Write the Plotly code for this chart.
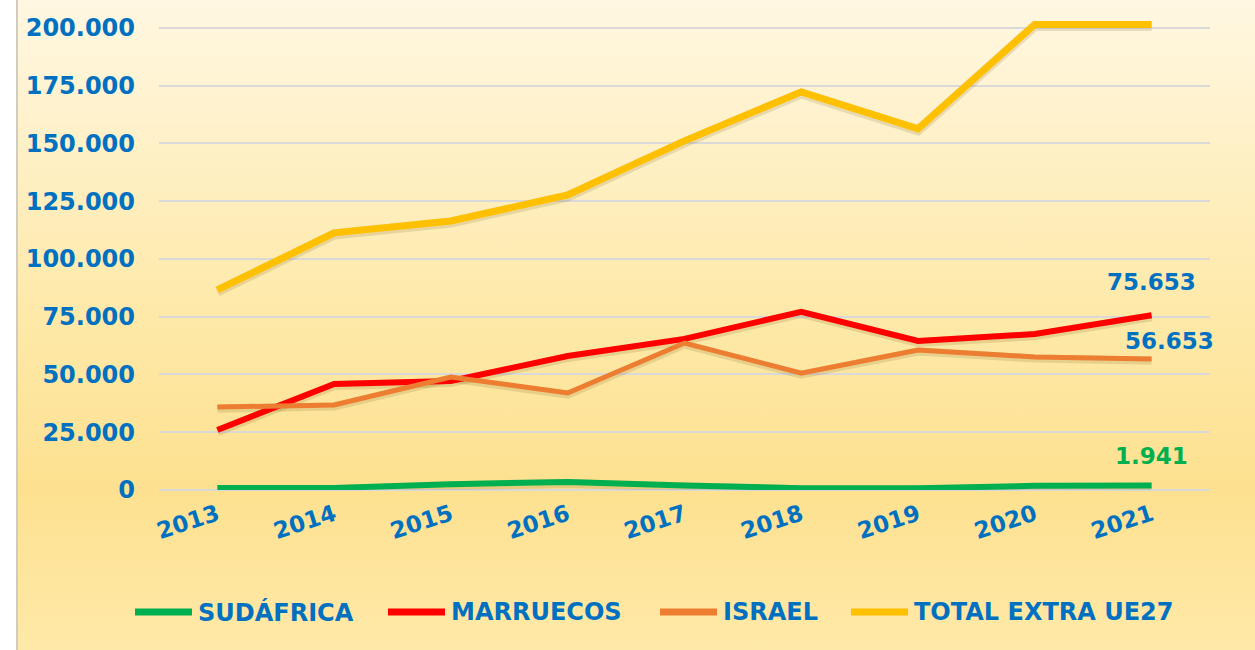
import base64
import plotly.graph_objects as go

years = ["2013", "2014", "2015", "2016", "2017", "2018", "2019", "2020", "2021"]
sudafrica = [900, 900, 2500, 3500, 2000, 800, 800, 1800, 1941]
marruecos = [26000, 45900, 47200, 58000, 65400, 77100, 64500, 67500, 75653]
israel = [35900, 36800, 48900, 42000, 63600, 50600, 60600, 57600, 56653]
total_extra = [86600, 111300, 116400, 127700, 151100, 172300, 156300, 201500, 201500]

blue = "#0070C0"
font_name = "DejaVu Sans"

# plot area in pixels (used for the hand-placed legend)
L, R, T, B = 159, 45, 14, 160
W, H = 1255, 650
pw, ph = W - L - R, H - T - B

def px_x(p):
    return (p - L) / pw

def px_y(p):
    return (H - B - p) / ph

# background gradient as an svg image
svg = ('<svg xmlns="http://www.w3.org/2000/svg" width="100" height="100" preserveAspectRatio="none">'
       '<defs><linearGradient id="g" x1="0" y1="0" x2="0" y2="1">'
       '<stop offset="0" stop-color="#FFF7E2"/>'
       '<stop offset="0.45" stop-color="#FEEAAC"/>'
       '<stop offset="0.75" stop-color="#FDE190"/>'
       '<stop offset="1" stop-color="#FFE9A8"/>'
       '</linearGradient></defs>'
       '<rect width="100" height="100" fill="url(#g)"/></svg>')
bg_src = "data:image/svg+xml;base64," + base64.b64encode(svg.encode()).decode()

series = [
    ("SUDÁFRICA", sudafrica, "#00B050", 6, 132),
    ("MARRUECOS", marruecos, "#FF0000", 6, 385),
    ("ISRAEL", israel, "#ED7D31", 5, 657),
    ("TOTAL EXTRA UE27", total_extra, "#FFC000", 7, 848),
]

fig = go.Figure()
# soft shadows under the lines
for name, vals, col, w, lx in series:
    fig.add_trace(go.Scatter(x=years, y=[v - 700 for v in vals], mode="lines",
                             line=dict(color="rgba(110,85,20,0.16)", width=w + 3),
                             showlegend=False, hoverinfo="skip"))
for name, vals, col, w, lx in series:
    fig.add_trace(go.Scatter(x=years, y=vals, name=name, mode="lines",
                             line=dict(color=col, width=w), showlegend=False))
    # legend entry
    fig.add_shape(type="line", xref="paper", yref="paper", x0=px_x(lx + 3), x1=px_x(lx + 60),
                  y0=px_y(612), y1=px_y(612), line=dict(color=col, width=7))
    fig.add_annotation(xref="paper", yref="paper", x=px_x(lx + 64), y=px_y(612), text=name,
                       showarrow=False, xanchor="left", yanchor="middle",
                       font=dict(size=24, color=blue, family=font_name, weight="bold"))

def fmt(v):
    return f"{v:,}".replace(",", ".")

last = len(years) - 1
lab_font = dict(color=blue, size=23, family=font_name, weight="bold")
fig.add_annotation(x=last, y=marruecos[-1], text=fmt(marruecos[-1]), showarrow=False,
                   xanchor="center", yshift=33, font=lab_font)
fig.add_annotation(x=last, y=israel[-1], text=fmt(israel[-1]), showarrow=False,
                   xanchor="center", yshift=18, xshift=18, font=lab_font)
fig.add_annotation(x=last, y=sudafrica[-1], text=fmt(sudafrica[-1]), showarrow=False,
                   xanchor="center", yshift=30, font=dict(lab_font, color="#00B050"))

fig.add_layout_image(dict(source=bg_src, xref="paper", yref="paper",
                          x=px_x(17), y=px_y(0), sizex=px_x(W) - px_x(17), sizey=px_y(0) - px_y(H),
                          xanchor="left", yanchor="top", sizing="stretch", layer="below"))
fig.add_shape(type="line", xref="paper", yref="paper", x0=px_x(17), x1=px_x(17),
              y0=px_y(H), y1=px_y(0), line=dict(color="#D0CCC0", width=2))

fig.update_layout(
    width=W, height=H,
    margin=dict(l=L, r=R, t=T, b=B, autoexpand=False),
    paper_bgcolor="white", plot_bgcolor="rgba(0,0,0,0)",
    separators=",.",
    font=dict(family=font_name, color=blue, size=20),
    showlegend=False,
)
fig.update_xaxes(type="category", range=[-0.5, 8.5], showgrid=False, showline=False, ticks="",
                 tickangle=-18, automargin=False, ticklabelstandoff=6,
                 tickfont=dict(size=23, color=blue, family=font_name, weight="bold"))
fig.update_yaxes(range=[0, 206000], dtick=25000, tickformat=",d", showline=False,
                 gridcolor="#D9D9D9", gridwidth=2, zeroline=True, zerolinecolor="#D9D9D9",
                 zerolinewidth=2, ticks="", ticklabelstandoff=23, automargin=False,
                 tickfont=dict(size=24, color=blue, family=font_name, weight="bold"))

fig.write_html("out.html", config={"displayModeBar": False},
               post_script="document.body.style.margin='0';")
